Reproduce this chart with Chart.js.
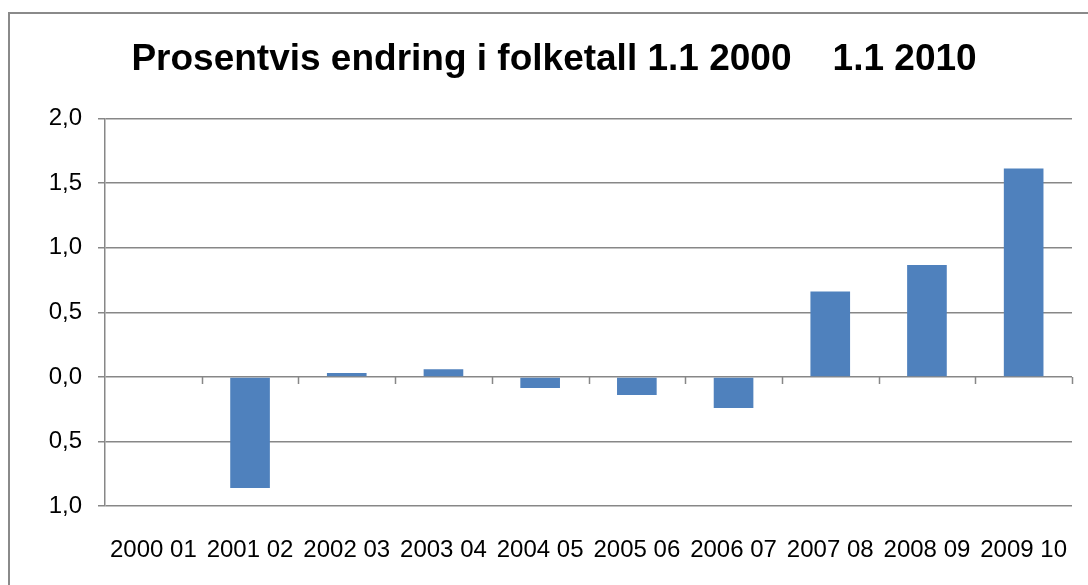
<!DOCTYPE html>
<html>
<head>
<meta charset="utf-8">
<script src="https://cdn.jsdelivr.net/npm/chart.js@4/dist/chart.umd.min.js"></script>
<style>
  html, body { margin: 0; padding: 0; background: #fff; overflow: hidden; }
  #wrap { position: relative; width: 1088px; height: 585px; }
  #frame { position: absolute; left: 8px; top: 12px; width: 1100px; height: 600px;
           border-left: 2px solid #8a8a8a; border-top: 2px solid #8a8a8a; }
  canvas { position: absolute; left: 0; top: 0; }
</style>
</head>
<body>
<div id="wrap">
  <div id="frame"></div>
  <canvas id="c" width="1088" height="585"></canvas>
</div>
<script>
// Prosentvis endring i folketall, ett tall per år
const periods = ['2000 01', '2001 02', '2002 03', '2003 04', '2004 05',
                 '2005 06', '2006 07', '2007 08', '2008 09', '2009 10'];
const changePct = [0, -0.86, 0.03, 0.06, -0.085, -0.14, -0.24, 0.66, 0.866, 1.613];
const titleText = 'Prosentvis endring i folketall 1.1 2000    1.1 2010';

const AXIS_GREY = '#878787';
const FONT = 'Liberation Sans';

// små tick-streker under nullinjen, mellom kategoriene
const zeroTicks = {
  id: 'zeroTicks',
  afterDatasetsDraw(chart) {
    const x = chart.scales.x, y = chart.scales.y;
    const y0 = y.getPixelForValue(0);
    const ctx = chart.ctx;
    ctx.save();
    ctx.strokeStyle = AXIS_GREY;
    ctx.lineWidth = 1.5;
    ctx.beginPath();
    for (let i = 1; i <= periods.length; i++) {
      const px = i < periods.length
        ? (x.getPixelForValue(i - 1) + x.getPixelForValue(i)) / 2
        : chart.chartArea.right;
      ctx.moveTo(Math.round(px) + 0.5, y0);
      ctx.lineTo(Math.round(px) + 0.5, y0 + 7);
    }
    ctx.stroke();
    ctx.restore();
  }
};

new Chart(document.getElementById('c'), {
  type: 'bar',
  data: {
    labels: periods,
    datasets: [{
      data: changePct,
      backgroundColor: '#4F81BD',
      borderWidth: 0,
      categoryPercentage: 1,
      barPercentage: 0.41
    }]
  },
  options: {
    responsive: false,
    animation: false,
    layout: { padding: { left: 36, right: 16, top: 0, bottom: 18 } },
    plugins: {
      legend: { display: false },
      tooltip: { enabled: false },
      title: {
        display: true,
        text: titleText,
        color: '#000',
        font: { family: FONT, size: 37, weight: 'bold' },
        padding: { top: 38, bottom: 36 }
      }
    },
    scales: {
      x: {
        // tickLength brukes bare som avstand ned til etikettene
        grid: { display: false, drawTicks: true, tickLength: 28 },
        border: { display: false },
        ticks: {
          autoSkip: false, maxRotation: 0, padding: 2,
          color: '#000', font: { family: FONT, size: 24 }
        }
      },
      y: {
        min: -1, max: 2,
        afterFit(scale) { scale.width = 69; },
        grid: { color: AXIS_GREY, lineWidth: 1.5, tickLength: 7 },
        border: { color: AXIS_GREY, width: 1.5 },
        ticks: {
          stepSize: 0.5, padding: 16,
          color: '#000', font: { family: FONT, size: 24 },
          callback: (v) => Math.abs(v).toFixed(1).replace('.', ',')
        }
      }
    }
  },
  plugins: [zeroTicks]
});
</script>
</body>
</html>
